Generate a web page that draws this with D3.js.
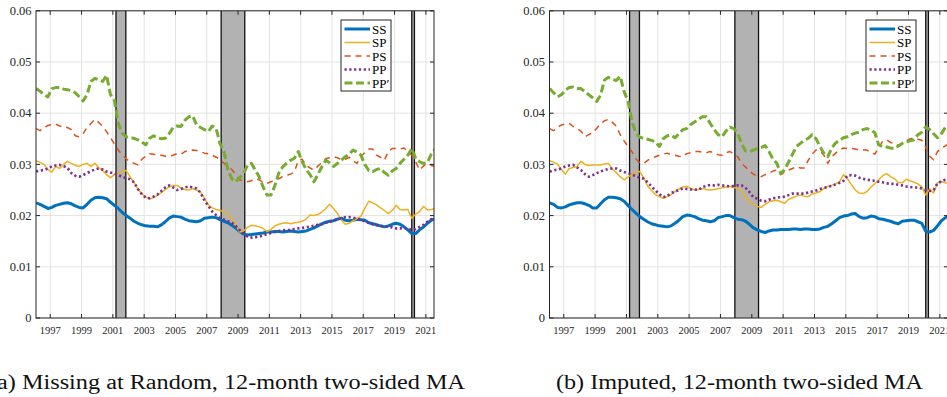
<!DOCTYPE html>
<html>
<head>
<meta charset="utf-8">
<script src="https://cdn.jsdelivr.net/npm/d3@7"></script>
<style>
  html, body { margin: 0; padding: 0; background: #fff; }
  svg { display: block; }
  svg text { font-family: "Liberation Serif", "Times New Roman", Times, serif; }
</style>
</head>
<body>
<script>
// Quarterly observation dates (decimal years) shared by every series
const dates = d3.range(103).map(i => 1996.1 + i * 0.25);

// Panel (a): missing at random
const ssA = [
  .0225,.0222,.0218,.0214, .0216,.0220,.0222,.0224, .0225,.0223,.0219,.0216, .0215,.0222,.0230,.0235,
  .0236,.0235,.0233,.0226, .0220,.0214,.0206,.0200, .0195,.0189,.0185,.0182, .0180,.0179,.0179,.0178,
  .0182,.0188,.0195,.0199, .0198,.0197,.0193,.0190, .0189,.0188,.0190,.0195, .0196,.0197,.0196,.0192,
  .0189,.0186,.0181,.0176, .0169,.0164,.0162,.0163, .0164,.0165,.0166,.0168, .0168,.0169,.0169,.0168,
  .0169,.0170,.0169,.0168, .0169,.0170,.0173,.0176, .0180,.0184,.0187,.0189, .0190,.0193,.0195,.0191,
  .0190,.0191,.0193,.0192, .0191,.0186,.0184,.0182, .0180,.0178,.0180,.0183, .0185,.0183,.0178,.0172,
  .0165,.0165,.0172,.0178, .0185,.0191,.0194
];
const spA = [
  .0307,.0304,.0300,.0290, .0285,.0296,.0292,.0300, .0306,.0302,.0298,.0296, .0300,.0302,.0296,.0302,
  .0294,.0288,.0280,.0274, .0280,.0283,.0286,.0288, .0276,.0265,.0252,.0243, .0236,.0233,.0235,.0240,
  .0245,.0251,.0256,.0259, .0259,.0254,.0251,.0250, .0253,.0250,.0246,.0234, .0221,.0215,.0212,.0210,
  .0208,.0203,.0193,.0182, .0168,.0170,.0177,.0181, .0180,.0178,.0175,.0169, .0173,.0180,.0183,.0185,
  .0186,.0184,.0186,.0187, .0189,.0193,.0201,.0200, .0202,.0207,.0214,.0222, .0214,.0204,.0191,.0183,
  .0185,.0190,.0194,.0199, .0214,.0228,.0225,.0221, .0215,.0210,.0204,.0210, .0220,.0212,.0211,.0212,
  .0195,.0203,.0208,.0218, .0211,.0212,.0214
];
const psA = [
  .0370,.0366,.0372,.0376, .0378,.0379,.0375,.0372, .0372,.0368,.0356,.0354, .0360,.0372,.0380,.0388,
  .0382,.0374,.0364,.0352, .0340,.0328,.0318,.0311, .0305,.0302,.0299,.0310, .0316,.0321,.0320,.0318,
  .0318,.0316,.0316,.0318, .0321,.0320,.0325,.0327, .0328,.0327,.0325,.0322, .0321,.0318,.0314,.0309,
  .0302,.0296,.0290,.0280, .0270,.0268,.0266,.0268, .0272,.0270,.0265,.0263, .0266,.0270,.0272,.0276,
  .0279,.0281,.0285,.0308, .0310,.0298,.0293,.0289, .0297,.0303,.0311,.0313, .0315,.0313,.0309,.0310,
  .0314,.0307,.0302,.0316, .0323,.0330,.0330,.0318, .0314,.0308,.0325,.0331, .0331,.0330,.0332,.0325,
  .0318,.0305,.0289,.0297, .0303,.0298,.0296
];
const ppA = [
  .0286,.0288,.0289,.0292, .0296,.0298,.0299,.0297, .0293,.0283,.0278,.0276, .0279,.0283,.0287,.0290,
  .0292,.0290,.0286,.0284, .0283,.0279,.0276,.0273, .0271,.0265,.0252,.0242, .0235,.0234,.0237,.0241,
  .0248,.0255,.0259,.0255, .0250,.0252,.0255,.0257, .0255,.0253,.0245,.0230, .0219,.0208,.0201,.0195,
  .0192,.0189,.0186,.0180, .0172,.0165,.0159,.0157, .0158,.0159,.0161,.0164, .0166,.0168,.0170,.0171,
  .0172,.0172,.0174,.0175, .0176,.0177,.0179,.0180, .0182,.0183,.0186,.0188, .0190,.0193,.0195,.0197,
  .0197,.0196,.0194,.0191, .0189,.0186,.0183,.0181, .0180,.0179,.0178,.0177, .0175,.0175,.0176,.0175,
  .0172,.0174,.0178,.0182, .0188,.0193,.0196
];
const ppPrimeA = [
  .0448,.0443,.0436,.0432, .0448,.0450,.0450,.0447, .0446,.0444,.0440,.0432, .0424,.0436,.0462,.0468,
  .0465,.0462,.0474,.0436, .0425,.0380,.0361,.0354, .0352,.0351,.0348,.0344, .0338,.0351,.0356,.0352,
  .0350,.0351,.0360,.0372, .0375,.0374,.0386,.0393, .0395,.0377,.0372,.0368, .0364,.0375,.0370,.0340,
  .0325,.0290,.0272,.0266, .0274,.0282,.0298,.0302, .0289,.0276,.0256,.0240, .0240,.0258,.0283,.0295,
  .0302,.0308,.0312,.0325, .0305,.0290,.0280,.0266, .0280,.0295,.0308,.0303, .0296,.0302,.0308,.0315,
  .0320,.0328,.0324,.0318, .0300,.0288,.0286,.0290, .0292,.0284,.0279,.0287, .0292,.0302,.0310,.0318,
  .0331,.0312,.0305,.0302, .0304,.0320,.0330
];

// Panel (b): imputed
const ssB = [
  .0225,.0222,.0216,.0215, .0217,.0221,.0223,.0225, .0225,.0223,.0220,.0215, .0215,.0223,.0231,.0236,
  .0236,.0235,.0233,.0228, .0220,.0212,.0205,.0198, .0193,.0188,.0184,.0182, .0180,.0179,.0178,.0180,
  .0185,.0191,.0198,.0201, .0200,.0198,.0194,.0191, .0190,.0188,.0190,.0196, .0198,.0200,.0200,.0196,
  .0193,.0192,.0189,.0183, .0176,.0172,.0169,.0167, .0170,.0172,.0172,.0173, .0173,.0173,.0174,.0174,
  .0173,.0174,.0174,.0173, .0173,.0174,.0177,.0179, .0184,.0190,.0196,.0199, .0200,.0203,.0204,.0198,
  .0195,.0196,.0199,.0198, .0194,.0193,.0191,.0189, .0186,.0184,.0189,.0190, .0191,.0191,.0188,.0185,
  .0169,.0168,.0171,.0180, .0190,.0196,.0198
];
const spB = [
  .0307,.0304,.0301,.0290, .0281,.0292,.0294,.0296, .0306,.0300,.0298,.0299, .0299,.0299,.0301,.0302,
  .0291,.0284,.0276,.0270, .0275,.0280,.0286,.0286, .0274,.0258,.0249,.0241, .0237,.0234,.0237,.0241,
  .0247,.0252,.0256,.0257, .0253,.0250,.0251,.0253, .0251,.0250,.0251,.0253, .0254,.0256,.0257,.0255,
  .0253,.0248,.0235,.0227, .0222,.0218,.0216,.0222, .0227,.0229,.0230,.0227, .0224,.0232,.0235,.0238,
  .0240,.0238,.0237,.0242, .0244,.0247,.0253,.0257, .0259,.0262,.0266,.0280, .0272,.0261,.0250,.0244,
  .0243,.0247,.0256,.0262, .0270,.0278,.0282,.0276, .0272,.0265,.0264,.0271, .0268,.0265,.0262,.0256,
  .0240,.0252,.0244,.0264, .0266,.0264,.0262
];
const psB = [
  .0370,.0366,.0372,.0377, .0379,.0380,.0374,.0370, .0365,.0354,.0358,.0362, .0370,.0380,.0385,.0388,
  .0382,.0375,.0358,.0346, .0335,.0325,.0311,.0303, .0302,.0308,.0312,.0315, .0318,.0320,.0322,.0319,
  .0318,.0316,.0315,.0321, .0323,.0325,.0325,.0324, .0323,.0325,.0322,.0319, .0318,.0323,.0325,.0321,
  .0315,.0302,.0295,.0287, .0281,.0277,.0276,.0280, .0283,.0287,.0289,.0280, .0285,.0289,.0292,.0296,
  .0293,.0293,.0308,.0320, .0328,.0326,.0318,.0302, .0315,.0322,.0328,.0332, .0331,.0331,.0330,.0328,
  .0328,.0328,.0323,.0320, .0333,.0345,.0348,.0343, .0340,.0338,.0340,.0346, .0350,.0351,.0349,.0347,
  .0333,.0316,.0309,.0325, .0332,.0336,.0341
];
const ppB = [
  .0286,.0288,.0290,.0292, .0296,.0298,.0299,.0294, .0289,.0281,.0276,.0279, .0283,.0286,.0289,.0291,
  .0292,.0292,.0288,.0285, .0283,.0280,.0277,.0274, .0272,.0265,.0257,.0249, .0242,.0236,.0238,.0244,
  .0247,.0250,.0253,.0252, .0251,.0251,.0250,.0256, .0258,.0260,.0259,.0260, .0259,.0258,.0257,.0258,
  .0259,.0259,.0254,.0246, .0236,.0233,.0229,.0228, .0231,.0234,.0235,.0236, .0237,.0240,.0243,.0243,
  .0243,.0243,.0245,.0247, .0249,.0252,.0254,.0256, .0258,.0261,.0264,.0268, .0278,.0279,.0278,.0274,
  .0272,.0270,.0269,.0268, .0266,.0265,.0263,.0262, .0262,.0260,.0259,.0257, .0256,.0255,.0255,.0253,
  .0250,.0248,.0250,.0263, .0267,.0270,.0272
];
const ppPrimeB = [
  .0448,.0440,.0432,.0436, .0445,.0450,.0451,.0448, .0448,.0442,.0436,.0430, .0423,.0435,.0465,.0470,
  .0466,.0464,.0472,.0442, .0424,.0383,.0362,.0353, .0351,.0349,.0347,.0344, .0335,.0350,.0356,.0357,
  .0352,.0360,.0368,.0370, .0378,.0383,.0388,.0393, .0393,.0380,.0368,.0358, .0354,.0365,.0373,.0370,
  .0360,.0341,.0326,.0325, .0328,.0331,.0333,.0337, .0325,.0310,.0302,.0282, .0290,.0305,.0320,.0335,
  .0341,.0347,.0351,.0358, .0350,.0335,.0322,.0315, .0332,.0342,.0347,.0352, .0354,.0358,.0361,.0363,
  .0368,.0370,.0367,.0362, .0338,.0335,.0334,.0332, .0331,.0336,.0341,.0344, .0346,.0348,.0358,.0363,
  .0373,.0368,.0360,.0352, .0360,.0372,.0378
];

const seriesNames = ["SS", "SP", "PS", "PP", "PP\u2032"];
const xTickYears = [1997, 1999, 2001, 2003, 2005, 2007, 2009, 2011, 2013, 2015, 2017, 2019, 2021];
const yTickValues = [0, 0.01, 0.02, 0.03, 0.04, 0.05, 0.06];
const yTickLabels = ["0", "0.01", "0.02", "0.03", "0.04", "0.05", "0.06"];
const recessions = [[2001.2, 2001.83], [2007.92, 2009.43], [2020.1, 2020.27]];
const captions = ["(a) Missing at Random, 12-month two-sided MA", "(b) Imputed, 12-month two-sided MA"];

// Line styles, in legend order
const styles = [
  { color: "#0072BD", width: 3,   dash: null },
  { color: "#EDB120", width: 1.5, dash: null },
  { color: "#D95319", width: 1.5, dash: "6,5" },
  { color: "#7E2F8E", width: 2.6, dash: "2.2,2.6" },
  { color: "#77AC30", width: 3,   dash: "8,3.5" }
];

const W = 947, H = 397;
const svg = d3.select("body").append("svg").attr("width", W).attr("height", H);

const panels = [
  { left: 36,    right: 434, series: [ssA, spA, psA, ppA, ppPrimeA], legendX: 341, caption: captions[0], capX: -11, capLen: 476 },
  { left: 549.5, right: 948, series: [ssB, spB, psB, ppB, ppPrimeB], legendX: 866, caption: captions[1], capX: 556, capLen: 367 }
];
const plotTop = 10.8, plotBottom = 318;
const xDomain = [1996.09, 2021.52];
const axisColor = "#262626";

panels.forEach((p, pi) => {
  const x = d3.scaleLinear().domain(xDomain).range([p.left, p.right]);
  const y = d3.scaleLinear().domain([0, 0.06]).range([plotBottom, plotTop]);
  const g = svg.append("g");

  const clipId = "clip" + pi;
  svg.append("clipPath").attr("id", clipId)
    .append("rect").attr("x", p.left).attr("y", plotTop)
    .attr("width", p.right - p.left).attr("height", plotBottom - plotTop);

  // grid
  const grid = g.append("g").attr("stroke", "#e3e3e3").attr("stroke-width", 1);
  grid.selectAll(".gx").data(xTickYears).enter().append("line")
    .attr("x1", d => x(d)).attr("x2", d => x(d)).attr("y1", plotTop).attr("y2", plotBottom);
  grid.selectAll(".gy").data(yTickValues).enter().append("line")
    .attr("x1", p.left).attr("x2", p.right).attr("y1", d => y(d)).attr("y2", d => y(d));

  // recession shading
  const rec = g.append("g").attr("clip-path", `url(#${clipId})`);
  recessions.forEach(r => {
    rec.append("rect").attr("x", x(r[0])).attr("y", plotTop)
      .attr("width", x(r[1]) - x(r[0])).attr("height", plotBottom - plotTop)
      .attr("fill", "#b2b2b2");
    r.forEach(v => rec.append("line").attr("x1", x(v)).attr("x2", x(v))
      .attr("y1", plotTop).attr("y2", plotBottom).attr("stroke", "#111").attr("stroke-width", 1.3));
  });

  // series lines
  const line = d3.line().x((d, i) => x(dates[i])).y(d => y(d));
  const lines = g.append("g").attr("clip-path", `url(#${clipId})`);
  p.series.forEach((vals, si) => {
    const s = styles[si];
    lines.append("path").datum(vals).attr("d", line)
      .attr("fill", "none").attr("stroke", s.color).attr("stroke-width", s.width)
      .attr("stroke-linejoin", "round")
      .attr("stroke-dasharray", s.dash);
  });

  // axis box and inward ticks
  const ax = g.append("g").attr("stroke", axisColor).attr("stroke-width", 1);
  ax.append("rect").attr("x", p.left).attr("y", plotTop)
    .attr("width", p.right - p.left).attr("height", plotBottom - plotTop)
    .attr("fill", "none");
  const tl = 4;
  xTickYears.forEach(d => {
    ax.append("line").attr("x1", x(d)).attr("x2", x(d)).attr("y1", plotBottom).attr("y2", plotBottom - tl);
    ax.append("line").attr("x1", x(d)).attr("x2", x(d)).attr("y1", plotTop).attr("y2", plotTop + tl);
  });
  yTickValues.forEach(d => {
    ax.append("line").attr("x1", p.left).attr("x2", p.left + tl).attr("y1", y(d)).attr("y2", y(d));
    ax.append("line").attr("x1", p.right).attr("x2", p.right - tl).attr("y1", y(d)).attr("y2", y(d));
  });

  // tick labels
  g.append("g").selectAll("text").data(xTickYears).enter().append("text")
    .attr("x", d => x(d)).attr("y", 334).attr("text-anchor", "middle")
    .attr("font-size", 10.5).attr("fill", axisColor)
    .text(d => d);
  g.append("g").selectAll("text").data(yTickValues).enter().append("text")
    .attr("x", p.left - 4.5).attr("y", d => y(d)).attr("dy", "0.34em").attr("text-anchor", "end")
    .attr("font-size", 12.5).attr("fill", axisColor)
    .text((d, i) => yTickLabels[i]);

  // legend
  const lg = g.append("g").attr("transform", `translate(${p.legendX},20)`);
  lg.append("rect").attr("x", 0).attr("y", 0).attr("width", 50).attr("height", 71)
    .attr("fill", "#fff").attr("stroke", axisColor).attr("stroke-width", 1);
  seriesNames.forEach((name, si) => {
    const s = styles[si];
    const ly = 9 + si * 13.5;
    lg.append("line").attr("x1", 3.5).attr("x2", 29).attr("y1", ly).attr("y2", ly)
      .attr("stroke", s.color).attr("stroke-width", s.width).attr("stroke-dasharray", s.dash);
    lg.append("text").attr("x", 31).attr("y", ly).attr("dy", "0.35em")
      .attr("font-size", 13).attr("fill", "#000").text(name);
  });

  // caption
  svg.append("text").attr("x", p.capX).attr("y", 389)
    .attr("font-size", 20.5).attr("fill", "#111")
    .attr("textLength", p.capLen).attr("lengthAdjust", "spacingAndGlyphs")
    .text(p.caption);
});
</script>
</body>
</html>
